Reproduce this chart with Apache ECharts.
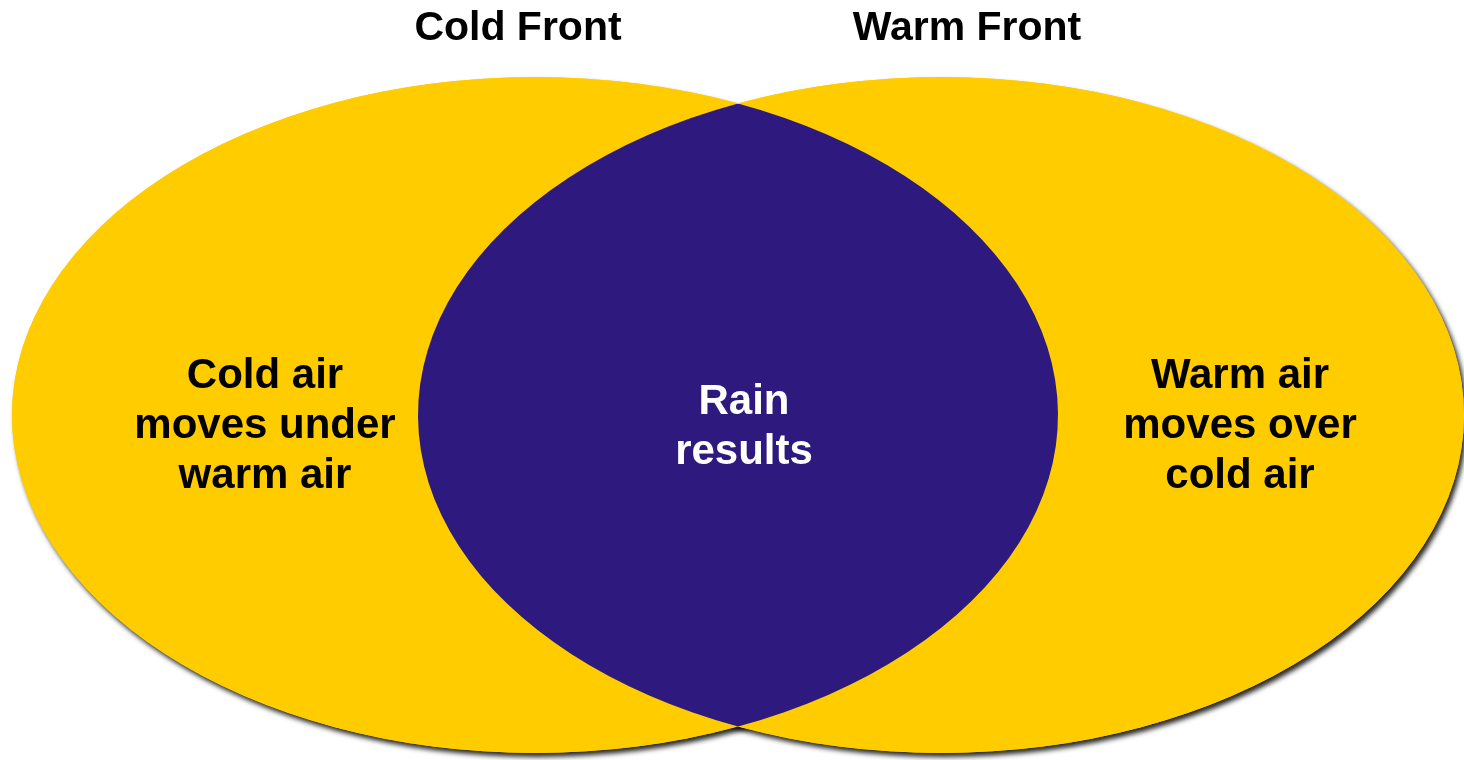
<!DOCTYPE html>
<html>
<head>
<meta charset="utf-8">
<title>Cold Front / Warm Front</title>
<script src="https://cdn.jsdelivr.net/npm/echarts@6/dist/echarts.min.js"></script>
<style>
  html, body { margin: 0; padding: 0; background: #fff; }
  #chart { width: 1464px; height: 760px; }
</style>
</head>
<body>
<div id="chart"></div>
<script>
// sets of the diagram
const sets = ['Cold Front', 'Warm Front']
const setDescriptions = ['Cold air\nmoves under\nwarm air', 'Warm air\nmoves over\ncold air']
const overlapLabel = 'Rain\nresults'

// ellipse of every set, in axis units
const ellipseCenterX = [535, 941]
const ellipseCenterY = [415, 415]
const ellipseRadiusX = [523, 523]
const ellipseRadiusY = [338, 338]

// where the texts go
const titleAt = [[518, 29], [967, 29]]
const descriptionAt = [[265, 426], [1240, 426]]
const overlapAt = [744, 427]

const FONT = '"Liberation Sans", Arial, sans-serif'
const YELLOW = '#FFCC00'
const PURPLE = '#2E1A7E'

const setData = sets.map((name, i) => ({
    name: name,
    value: [ellipseCenterX[i], ellipseCenterY[i], ellipseRadiusX[i], ellipseRadiusY[i]]
}))

function ellipsePath (cx, cy, rx, ry) {
    return 'M' + (cx - rx) + ',' + cy +
        ' A' + rx + ',' + ry + ' 0 1 0 ' + (cx + rx) + ',' + cy +
        ' A' + rx + ',' + ry + ' 0 1 0 ' + (cx - rx) + ',' + cy + ' Z'
}

function textEl (pos, text, color, size, api) {
    const p = api.coord(pos)
    return {
        type: 'text',
        x: p[0],
        y: p[1],
        style: {
            text: text,
            fill: color,
            fontFamily: FONT,
            fontWeight: 'bold',
            fontSize: size,
            lineHeight: 50,
            align: 'center',
            verticalAlign: 'middle'
        }
    }
}

function ellipseEl (api, withShadow) {
    const c = api.coord([api.value(0), api.value(1)])
    const r = api.size([api.value(2), api.value(3)])
    const style = { fill: YELLOW }
    if (withShadow) {
        style.shadowBlur = 5
        style.shadowOffsetX = 3
        style.shadowOffsetY = 4
        style.shadowColor = 'rgba(0,0,0,0.85)'
    }
    return {
        type: 'path',
        shape: { pathData: ellipsePath(c[0], c[1], r[0], r[1]) },
        style: style
    }
}

// shadows first, so no set throws its shadow on the other one
function renderShadow (params, api) {
    return ellipseEl(api, true)
}

function renderSet (params, api) {
    const i = params.dataIndex
    return {
        type: 'group',
        children: [
            ellipseEl(api, false),
            textEl(descriptionAt[i], setDescriptions[i], '#000', 42, api),
            textEl(titleAt[i], sets[i], '#000', 41, api)
        ]
    }
}

function renderOverlap (params, api) {
    // both ellipses share centre y and radii, so the lens is symmetric
    const a = api.coord([ellipseCenterX[0], ellipseCenterY[0]])
    const b = api.coord([ellipseCenterX[1], ellipseCenterY[1]])
    const r = api.size([ellipseRadiusX[0], ellipseRadiusY[0]])
    const rx = r[0], ry = r[1]
    const xi = (a[0] + b[0]) / 2
    const k = (xi - a[0]) / rx
    const dy = ry * Math.sqrt(1 - k * k)
    const top = [xi, a[1] - dy]
    const bottom = [xi, a[1] + dy]
    const d = 'M' + top[0] + ',' + top[1] +
        ' A' + rx + ',' + ry + ' 0 0 0 ' + bottom[0] + ',' + bottom[1] +
        ' A' + rx + ',' + ry + ' 0 0 0 ' + top[0] + ',' + top[1] + ' Z'
    return {
        type: 'group',
        children: [
            { type: 'path', shape: { pathData: d }, style: { fill: PURPLE } },
            textEl(overlapAt, overlapLabel, '#fff', 42, api)
        ]
    }
}

const chart = echarts.init(document.getElementById('chart'))
chart.setOption({
    animation: false,
    backgroundColor: '#fff',
    grid: { left: 0, right: 0, top: 0, bottom: 0 },
    xAxis: { type: 'value', min: 0, max: 1464, show: false },
    yAxis: { type: 'value', min: 0, max: 760, inverse: true, show: false },
    series: [
        {
            name: 'shadow',
            type: 'custom',
            clip: false,
            silent: true,
            encode: { x: 0, y: 1 },
            data: setData,
            renderItem: renderShadow
        },
        {
            name: 'sets',
            type: 'custom',
            clip: false,
            encode: { x: 0, y: 1 },
            data: setData,
            renderItem: renderSet
        },
        {
            name: 'overlap',
            type: 'custom',
            clip: false,
            encode: { x: 0, y: 1 },
            data: [[(ellipseCenterX[0] + ellipseCenterX[1]) / 2, ellipseCenterY[0]]],
            renderItem: renderOverlap
        }
    ]
})
window.addEventListener('resize', () => chart.resize())
</script>
</body>
</html>
